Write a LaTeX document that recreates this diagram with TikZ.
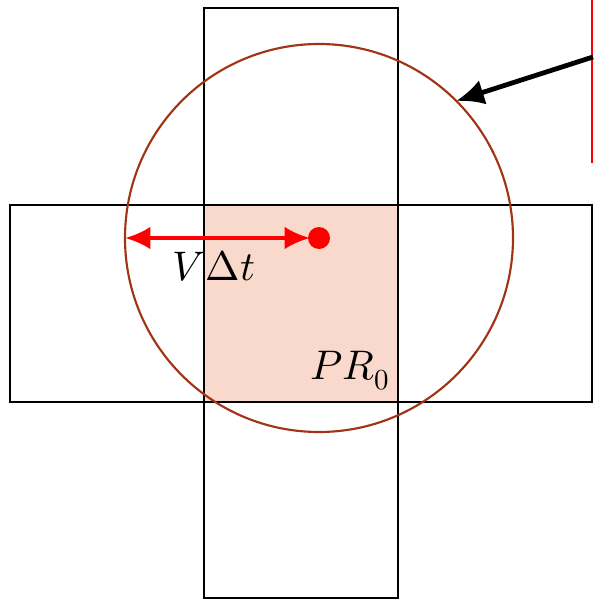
\documentclass[tikz,border=0pt]{standalone}
\usepackage{unicode-math}
\usetikzlibrary{arrows.meta}
\definecolor{fillpink}{RGB}{248,217,204}
\definecolor{circbrown}{RGB}{160,52,20}
\definecolor{myred}{RGB}{255,0,0}
\tikzset{
  box/.style={draw=black, line width=1.7pt},
  ring/.style={draw=circbrown, line width=1.6pt},
  redarrow/.style={draw=myred, line width=3pt, {Latex[length=19pt,width=17pt]}-{Latex[length=19pt,width=17pt]}},
  blackarrow/.style={draw=black, line width=3.6pt, -{Latex[length=21pt,width=19pt]}},
  lbl/.style={font=\fontsize{31}{36}\selectfont, inner sep=0pt}
}
\begin{document}
\begin{tikzpicture}[x=0.75pt,y=-0.75pt]
\useasboundingbox (0,0) rectangle (593,599);
% center filled square
\fill[fillpink] (204,205) rectangle (398,402);
% cross rectangles
\draw[box] (204,8) rectangle (398,598);
\draw[box] (10,205) rectangle (592,402);
% circle
\coordinate (c) at (319,238);
\draw[ring] (c) circle (194);
\coordinate (cw) at (125,238);
% red dot
\fill[myred] (c) circle (11);
% red double arrow
\coordinate (dotw) at (310,238);
\draw[redarrow] (cw) -- (dotw);
% labels
\node[lbl] (vdt) at (214,266) {$V\Delta t$};
\node[lbl] (pr) at (350,371) {$PR_0$};
% red line at right
\coordinate (rt) at (592,0);
\coordinate (rb) at (592,163);
\draw[myred, line width=2pt] (rt) -- (rb);
% black arrow
\coordinate (as) at (593,57);
\coordinate (ae) at (456,101);
\draw[blackarrow] (as) -- (ae);
\end{tikzpicture}
\end{document}
